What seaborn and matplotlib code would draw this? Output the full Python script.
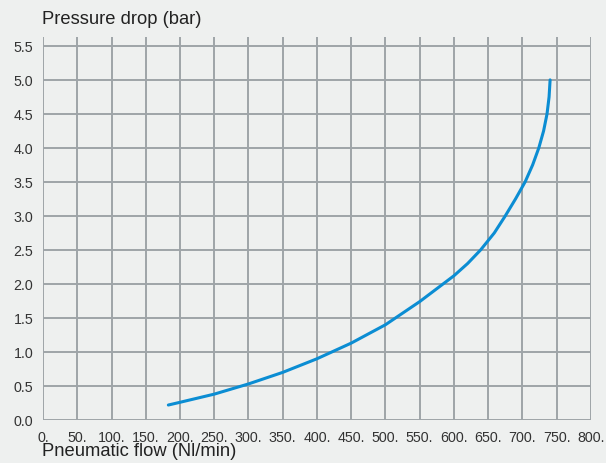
import matplotlib
matplotlib.use("Agg")
import matplotlib.pyplot as plt
import seaborn as sns
import pandas as pd

# values
flow = [183, 200, 250, 300, 350, 400, 450, 500, 550, 600, 620, 639, 659, 675,
        690, 704, 715, 724, 731, 736, 739, 740.5]
pressure = [0.22, 0.26, 0.38, 0.53, 0.70, 0.90, 1.13, 1.40, 1.74, 2.12, 2.3, 2.5, 2.75, 3.0,
            3.25, 3.5, 3.75, 4.0, 4.25, 4.5, 4.75, 5.0]
x_ticks = list(range(0, 801, 50))
y_ticks = [0.0, 0.5, 1.0, 1.5, 2.0, 2.5, 3.0, 3.5, 4.0, 4.5, 5.0, 5.5]

bg = "#eef0ef"
sns.set_style("whitegrid", {"axes.facecolor": bg, "figure.facecolor": bg,
                            "grid.color": "#9ea4a8"})
plt.rcParams["font.family"] = ["Liberation Sans", "DejaVu Sans"]

df = pd.DataFrame({"flow": flow, "pressure": pressure})

fig = plt.figure(figsize=(6.06, 4.64), dpi=100)
ax = fig.add_axes([0.071, 0.0927, 0.904, 0.8253])
sns.lineplot(data=df, x="flow", y="pressure", ax=ax, color="#0b8dd3", linewidth=2.2)

ax.set_xlim(0, 800)
ax.set_ylim(0, 5.63)
ax.set_xticks(x_ticks)
ax.set_xticklabels([f"{v}." for v in x_ticks])
ax.set_yticks(y_ticks)
ax.set_yticklabels([f"{v:.1f}" for v in y_ticks])
ax.grid(True, color="#9ea4a8", linewidth=1.4)
ax.tick_params(length=0, labelsize=10.3, colors="#333333", pad=7)
for s in ax.spines.values():
    s.set_visible(False)

ax.set_xlabel("")
ax.set_ylabel("")
fig.text(0.069, 0.94, "Pressure drop (bar)", fontsize=13.2, color="#222222", ha="left", va="bottom")
fig.text(0.069, 0.026, "Pneumatic flow (Nl/min)", fontsize=13.2, color="#222222", ha="left", va="center")

fig.savefig("out.png", dpi=100, facecolor=bg)
